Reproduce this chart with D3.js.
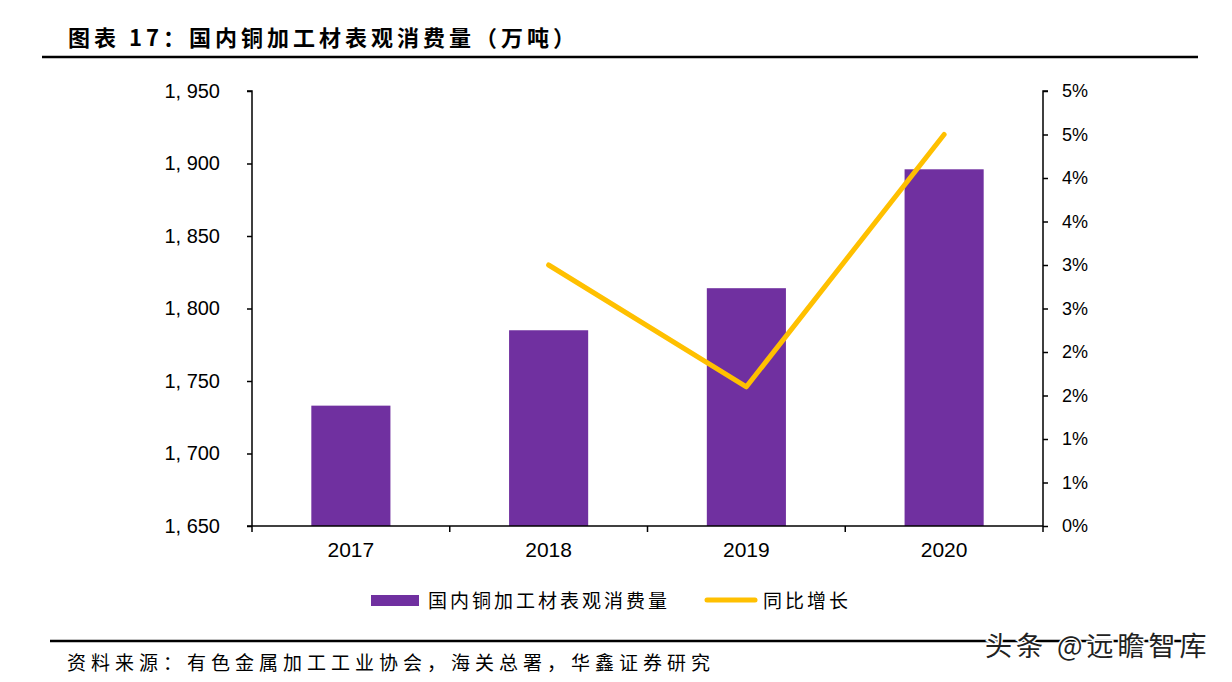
<!DOCTYPE html>
<html>
<head>
<meta charset="utf-8">
<script src="https://cdn.jsdelivr.net/npm/d3@7"></script>
<style>
  html, body { margin: 0; padding: 0; background: #fff; }
  svg { display: block; }
  .num { font-family: "Liberation Sans", Arial, sans-serif; }
  .cjk { font-family: "Noto Sans CJK SC", sans-serif; }
</style>
</head>
<body>
<svg id="chart" width="1232" height="682"></svg>
<script>
const categories = ["2017", "2018", "2019", "2020"];
const volume = [1733, 1785, 1814, 1896];          // 万吨
const growth = [null, 0.030, 0.016, 0.045];       // 同比增长
const leftTicks = [1650, 1700, 1750, 1800, 1850, 1900, 1950];
const rightTicks = [0, 0.005, 0.01, 0.015, 0.02, 0.025, 0.03, 0.035, 0.04, 0.045, 0.05];
const rightTickLabels = ["0%", "1%", "1%", "2%", "2%", "3%", "3%", "4%", "4%", "5%", "5%"];
const titleText = "图表 17：国内铜加工材表观消费量（万吨）";
const seriesNames = ["国内铜加工材表观消费量", "同比增长"];
const sourceText = "资料来源：有色金属加工工业协会，海关总署，华鑫证券研究";
const watermarkText = "头条 @远瞻智库";

const svg = d3.select("#chart");
const pL = 252, pR = 1043, pT = 91, pB = 526;

const x = d3.scaleBand().domain(categories).range([pL, pR]).paddingInner(0.6).paddingOuter(0.3);
const xb = d3.scaleBand().domain(categories).range([pL, pR]);
const yL = d3.scaleLinear().domain([1650, 1950]).range([pB, pT]);
const yR = d3.scaleLinear().domain([0, 0.05]).range([pB, pT]);

// title
svg.append("text").attr("class", "cjk").attr("x", 68).attr("y", 46)
  .attr("font-size", 22).attr("font-weight", "bold").attr("letter-spacing", 4)
  .attr("fill", "#000").text(titleText);
svg.append("line").attr("x1", 42).attr("x2", 1198).attr("y1", 57).attr("y2", 57)
  .attr("stroke", "#000").attr("stroke-width", 2.5);

// bars
svg.append("g").selectAll("rect").data(volume).join("rect")
  .attr("x", (d, i) => x(categories[i]))
  .attr("width", x.bandwidth())
  .attr("y", d => yL(d))
  .attr("height", d => yL(1650) - yL(d))
  .attr("fill", "#7030A0");

// left axis
const gL = svg.append("g").attr("transform", `translate(${pL},0)`)
  .call(d3.axisLeft(yL).tickValues(leftTicks).tickSize(5).tickPadding(27)
    .tickFormat(d => d3.format(",")(d).replace(",", ", ")));
gL.selectAll("path, line").attr("stroke", "#000").attr("stroke-width", 1.5);
gL.select(".domain").attr("d", `M-5,${pT}H0V${pB}`);
gL.selectAll("text").attr("class", "num").attr("font-size", 20).attr("fill", "#000");

// right axis
const gR = svg.append("g").attr("transform", `translate(${pR},0)`)
  .call(d3.axisRight(yR).tickValues(rightTicks).tickSize(5).tickPadding(14)
    .tickFormat((d, i) => rightTickLabels[i]));
gR.selectAll("path, line").attr("stroke", "#000").attr("stroke-width", 1.5);
gR.select(".domain").attr("d", `M5,${pT}H0V${pB}`);
gR.selectAll("text").attr("class", "num").attr("font-size", 18).attr("fill", "#000");

// x axis
const gX = svg.append("g").attr("transform", `translate(0,${pB})`)
  .call(d3.axisBottom(xb).tickSize(0).tickPadding(16));
gX.select(".domain").attr("d", `M${pL - 5},0H${pR}`).attr("stroke", "#000").attr("stroke-width", 1.5);
gX.selectAll("text").attr("class", "num").attr("font-size", 21).attr("fill", "#000");
gX.selectAll(".sep").data(categories.concat(["_end"])).join("line")
  .attr("class", "sep")
  .attr("x1", (d, i) => pL + i * xb.step()).attr("x2", (d, i) => pL + i * xb.step())
  .attr("y1", 0).attr("y2", 6).attr("stroke", "#000").attr("stroke-width", 1.5);

// growth line
const line = d3.line()
  .defined(d => d.v !== null)
  .x(d => xb(d.c) + xb.bandwidth() / 2)
  .y(d => yR(d.v));
svg.append("path")
  .datum(categories.map((c, i) => ({ c, v: growth[i] })))
  .attr("d", line)
  .attr("fill", "none").attr("stroke", "#FFC000").attr("stroke-width", 5)
  .attr("stroke-linecap", "round").attr("stroke-linejoin", "round");

// legend
svg.append("rect").attr("x", 371).attr("y", 595).attr("width", 48).attr("height", 11).attr("fill", "#7030A0");
svg.append("text").attr("class", "cjk").attr("x", 428).attr("y", 608)
  .attr("font-size", 19).attr("letter-spacing", 3).attr("fill", "#000").text(seriesNames[0]);
svg.append("line").attr("x1", 707).attr("x2", 755).attr("y1", 600).attr("y2", 600)
  .attr("stroke", "#FFC000").attr("stroke-width", 5).attr("stroke-linecap", "round");
svg.append("text").attr("class", "cjk").attr("x", 763).attr("y", 608)
  .attr("font-size", 19).attr("letter-spacing", 3).attr("fill", "#000").text(seriesNames[1]);

// footer
svg.append("line").attr("x1", 50).attr("x2", 1198).attr("y1", 641).attr("y2", 641)
  .attr("stroke", "#000").attr("stroke-width", 2.5);
svg.append("text").attr("class", "cjk").attr("x", 67).attr("y", 670)
  .attr("font-size", 19).attr("letter-spacing", 5).attr("fill", "#000").text(sourceText);

// watermark
svg.append("text").attr("class", "cjk").attr("x", 985).attr("y", 656)
  .attr("font-size", 27).attr("letter-spacing", 4).attr("fill", "#222")
  .attr("stroke", "#fff").attr("stroke-width", 3).attr("paint-order", "stroke")
  .text(watermarkText);
</script>
</body>
</html>
